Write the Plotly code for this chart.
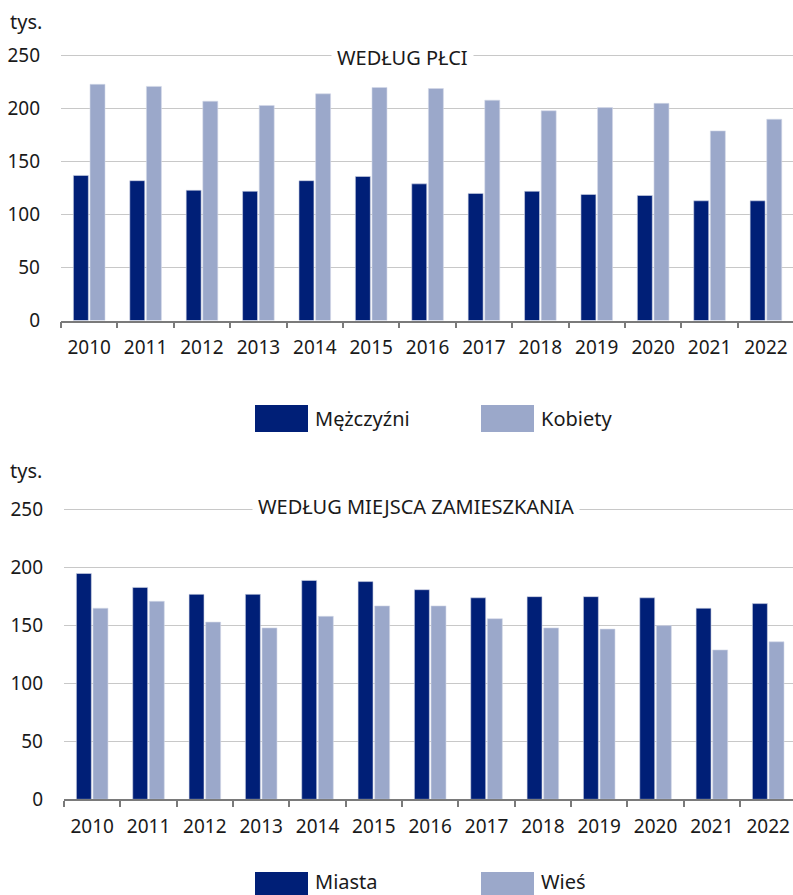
import plotly.graph_objects as go

years = ["2010", "2011", "2012", "2013", "2014", "2015", "2016",
         "2017", "2018", "2019", "2020", "2021", "2022"]
mezczyzni = [137, 132, 123, 122, 132, 136, 129, 120, 122, 119, 118, 113, 113]
kobiety = [223, 221, 207, 203, 214, 220, 219, 208, 198, 201, 205, 179, 190]
miasta = [195, 183, 177, 177, 189, 188, 181, 174, 175, 175, 174, 165, 169]
wies = [165, 171, 153, 148, 158, 167, 167, 156, 148, 147, 150, 129, 136]
y_ticks = [0, 50, 100, 150, 200, 250]

title_top = "WEDŁUG PŁCI"
title_bottom = "WEDŁUG MIEJSCA ZAMIESZKANIA"
unit = "tys."

DARK = "#001f77"
LIGHT = "#9ba8ca"
TXT = "#1a1a1a"
FONT = "Noto Sans"
W, H = 793, 895


def px(x):
    return x / W


def py(y):
    return 1 - y / H


fig = go.Figure()
fig.add_trace(go.Bar(x=years, y=mezczyzni, name="Mężczyźni", marker_color=DARK,
                     xaxis="x", yaxis="y", showlegend=False))
fig.add_trace(go.Bar(x=years, y=kobiety, name="Kobiety", marker_color=LIGHT,
                     xaxis="x", yaxis="y", showlegend=False))
fig.add_trace(go.Bar(x=years, y=miasta, name="Miasta", marker_color=DARK,
                     xaxis="x2", yaxis="y2", showlegend=False))
fig.add_trace(go.Bar(x=years, y=wies, name="Wieś", marker_color=LIGHT,
                     xaxis="x2", yaxis="y2", showlegend=False))
fig.update_traces(marker_line=dict(width=0.6, color="#d4d9e8"))

xcommon = dict(type="category", tickson="boundaries", showgrid=False,
               showline=True, linecolor="#7a7a7a", linewidth=1.5,
               ticks="outside", ticklen=6, tickwidth=1.5, tickcolor="#7a7a7a",
               ticklabelstandoff=9,
               tickfont=dict(family=FONT, size=19, color=TXT),
               fixedrange=True, zeroline=False, automargin=False)
ycommon = dict(range=[0, 251], tickvals=y_ticks, showgrid=True,
               gridcolor="#c8c8c8", gridwidth=1, zeroline=False,
               showline=False, ticks="", ticklabelstandoff=20,
               tickfont=dict(family=FONT, size=19, color=TXT), fixedrange=True,
               automargin=False)

# pixel geometry of the two plot areas (value 0 and value 250 rows)
top0, top250 = 320.5, 55.7
bot0, bot250 = 799.3, 509.8
top_end = top0 - (top0 - top250) * 251 / 250
bot_end = bot0 - (bot0 - bot250) * 251 / 250

fig.update_layout(
    template="none",
    width=W, height=H,
    margin=dict(l=0, r=0, t=0, b=0, pad=0),
    paper_bgcolor="white", plot_bgcolor="white",
    barmode="group", bargap=0.41, bargroupgap=0.1,
    font=dict(family=FONT, size=20, color=TXT),
    showlegend=False,
    xaxis=dict(domain=[px(61), 1], anchor="y", range=[-0.5, 12.48], **xcommon),
    yaxis=dict(domain=[py(top0), py(top_end)], anchor="x", **ycommon),
    xaxis2=dict(domain=[px(64), 1], anchor="y2", range=[-0.5, 12.44], **xcommon),
    yaxis2=dict(domain=[py(bot0), py(bot_end)], anchor="x2", **ycommon),
)

ann = []
ann.append(dict(text=unit, x=px(8), y=py(22), xref="paper", yref="paper",
                xanchor="left", yanchor="middle", showarrow=False,
                font=dict(family=FONT, size=20, color=TXT)))
ann.append(dict(text=unit, x=px(8), y=py(470), xref="paper", yref="paper",
                xanchor="left", yanchor="middle", showarrow=False,
                font=dict(family=FONT, size=20, color=TXT)))
ann.append(dict(text=title_top, x=px(402), y=250, xref="paper", yref="y",
                xanchor="center", yanchor="middle", showarrow=False,
                bgcolor="white", borderpad=5, yshift=-2,
                font=dict(family=FONT, size=20, color=TXT)))
ann.append(dict(text=title_bottom, x=px(416), y=250, xref="paper", yref="y2",
                xanchor="center", yanchor="middle", showarrow=False,
                bgcolor="white", borderpad=5, yshift=3,
                font=dict(family=FONT, size=20, color=TXT)))

shapes = []
legends = [
    (("Mężczyźni", DARK, 255), ("Kobiety", LIGHT, 481), 405, 432, 418.5),
    (("Miasta", DARK, 255), ("Wieś", LIGHT, 481), 872, 899, 881),
]
for a, b, y0, y1, ty in legends:
    for name, col, x0 in (a, b):
        shapes.append(dict(type="rect", xref="paper", yref="paper",
                           x0=px(x0), x1=px(x0 + 53), y0=py(y1), y1=py(y0),
                           fillcolor=col, line=dict(width=0), layer="above"))
        ann.append(dict(text=name, x=px(x0 + 58), y=py(ty),
                        xref="paper", yref="paper", xanchor="left",
                        yanchor="middle", showarrow=False,
                        font=dict(family=FONT, size=20, color=TXT)))

fig.update_layout(annotations=ann, shapes=shapes)
fig.write_html("out.html", config={"displayModeBar": False},
               post_script="document.body.style.margin='0';"
                           "document.body.style.overflow='hidden';")
